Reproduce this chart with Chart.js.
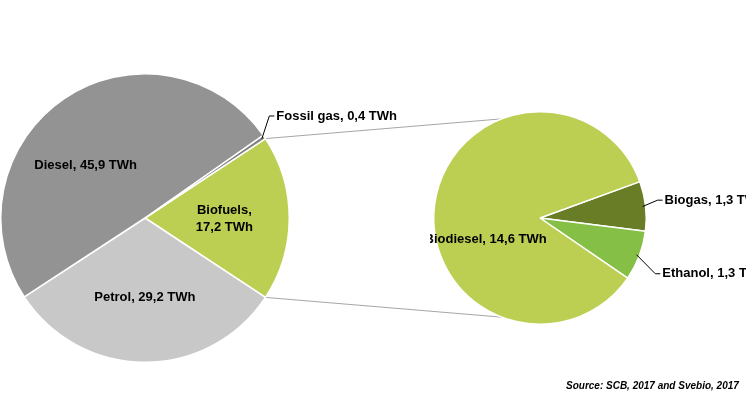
<!DOCTYPE html>
<html><head><meta charset="utf-8">
<script src="https://cdn.jsdelivr.net/npm/chart.js@4"></script>
<style>
body{margin:0;background:#fff;width:746px;height:419px;overflow:hidden;position:relative;font-family:"Liberation Sans",Arial,sans-serif}
canvas{position:absolute;top:0}
#src{position:absolute;left:566px;top:380px;font:italic bold 10px "Liberation Sans",Arial;white-space:nowrap}
svg{position:absolute;left:0;top:0}
</style></head><body>
<svg id="lines" width="746" height="419"></svg>
<div style="position:absolute;left:0;top:0;width:430px;height:419px"><canvas id="left"></canvas></div>
<div style="position:absolute;left:430px;top:0;width:316px;height:419px"><canvas id="right"></canvas></div>
<div id="src">Source: SCB, 2017 and Svebio, 2017</div>
<script>
// main pie
const mainLabels = ['Biofuels', 'Petrol', 'Diesel', 'Fossil gas']
const mainValues = [17.2, 29.2, 45.9, 0.4]
const mainColors = ['#bccf52', '#c8c8c8', '#939393', '#7f7f7f']
// breakdown of biofuels
const bioLabels = ['Biogas', 'Ethanol', 'Biodiesel']
const bioValues = [1.3, 1.3, 14.6]
const bioColors = ['#687d26', '#86bf45', '#bccf52']

const fmt = v => v.toFixed(1).replace('.', ',') + ' TWh'
const FONT = 'bold 13px "Liberation Sans", Arial'

// label placement: inside -> at a fraction of radius, outside -> leader line
const labelPlugin = {
    id: 'labels',
    afterDraw(chart, args, opts) {
        const ctx = chart.ctx
        const meta = chart.getDatasetMeta(0)
        const ds = chart.data.datasets[0]
        ctx.save()
        ctx.font = FONT
        ctx.fillStyle = '#000'
        meta.data.forEach((arc, i) => {
            const o = opts.place[i]
            const mid = (arc.startAngle + arc.endAngle) / 2
            const text = chart.data.labels[i] + ', ' + fmt(ds.data[i])
            if (o.inside) {
                const x = arc.x + Math.cos(mid + (o.da || 0)) * arc.outerRadius * o.r
                const y = arc.y + Math.sin(mid + (o.da || 0)) * arc.outerRadius * o.r
                ctx.textAlign = 'center'
                ctx.textBaseline = 'middle'
                if (o.split) {
                    ctx.fillText(chart.data.labels[i] + ',', x, y - 8)
                    ctx.fillText(fmt(ds.data[i]), x, y + 9)
                } else ctx.fillText(text, x, y)
            } else {
                const r = arc.outerRadius
                const x1 = arc.x + Math.cos(mid) * (r - 3), y1 = arc.y + Math.sin(mid) * (r - 3)
                const x2 = arc.x + Math.cos(mid) * r * o.r + o.dx, y2 = arc.y + Math.sin(mid) * r * o.r + o.dy
                ctx.strokeStyle = '#000'
                ctx.lineWidth = 1
                ctx.beginPath()
                ctx.moveTo(x1, y1)
                ctx.lineTo(x2, y2)
                ctx.lineTo(x2 + 5, y2)
                ctx.stroke()
                ctx.textAlign = 'left'
                ctx.textBaseline = 'middle'
                ctx.fillText(text, x2 + 7, y2)
            }
        })
        ctx.restore()
    }
}

function makePie(id, labels, values, colors, rotation, padding, place) {
    return new Chart(document.getElementById(id), {
        type: 'pie',
        data: { labels, datasets: [{ data: values, backgroundColor: colors, borderColor: '#fff', borderWidth: 1.5 }] },
        options: {
            responsive: true, maintainAspectRatio: false, animation: false,
            rotation,
            layout: { padding },
            plugins: { legend: { display: false }, tooltip: { enabled: false }, labels: { place } }
        },
        plugins: [labelPlugin]
    })
}

const leftChart = makePie('left', mainLabels, mainValues, mainColors,
    90 - mainValues[0] / mainValues.reduce((a, b) => a + b) * 180,
    { left: 0, right: 140, top: 73, bottom: 56 },
    [{ inside: true, r: 0.55, split: true }, { inside: true, r: 0.55 }, { inside: true, r: 0.55, da: -0.25 }, { inside: false, r: 1.0, dx: 5, dy: -21 }])

const rightChart = makePie('right', bioLabels, bioValues, bioColors, 70,
    { left: 3, right: 99, top: 111, bottom: 94 },
    [{ inside: false, r: 1.0, dx: 12, dy: -6 }, { inside: false, r: 1.0, dx: 16, dy: 18 }, { inside: true, r: 0.55, da: -0.5 }])

// connector lines from the biofuels slice to the top and bottom of the breakdown pie
const a = leftChart.getDatasetMeta(0).data[0]
const b = rightChart.getDatasetMeta(0).data[0]
const ox = 430
const p1 = [a.x + Math.cos(a.startAngle) * a.outerRadius, a.y + Math.sin(a.startAngle) * a.outerRadius]
const p2 = [a.x + Math.cos(a.endAngle) * a.outerRadius, a.y + Math.sin(a.endAngle) * a.outerRadius]
const q1 = [ox + b.x + b.outerRadius * 0.2, b.y - b.outerRadius * 0.98]
const q2 = [ox + b.x + b.outerRadius * 0.2, b.y + b.outerRadius * 0.98]
document.getElementById('lines').innerHTML =
    `<line x1="${p1[0]}" y1="${p1[1]}" x2="${q1[0]}" y2="${q1[1]}" stroke="#a6a6a6" stroke-width="1"/>` +
    `<line x1="${p2[0]}" y1="${p2[1]}" x2="${q2[0]}" y2="${q2[1]}" stroke="#a6a6a6" stroke-width="1"/>`
</script>
</body></html>
